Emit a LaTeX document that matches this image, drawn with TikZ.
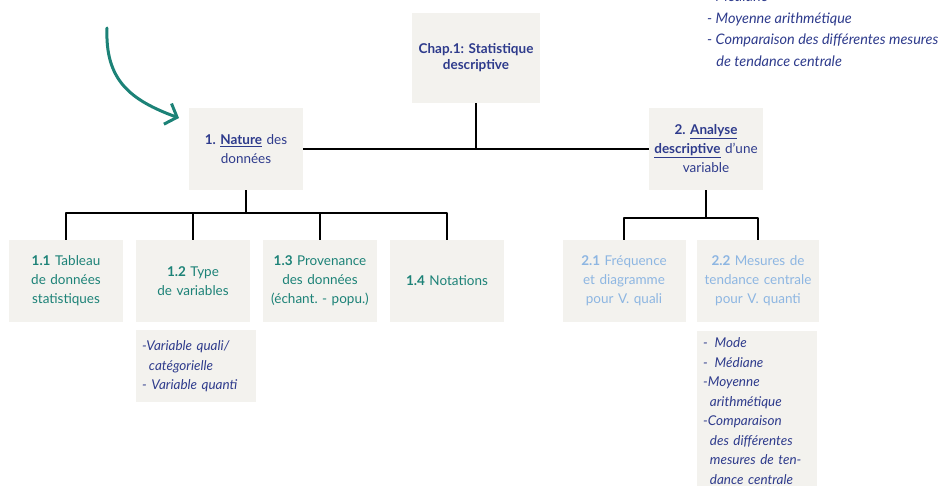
\documentclass[tikz,border=0pt]{standalone}
\usepackage{fontspec}
\setmainfont{Lato}
\usetikzlibrary{arrows.meta}
\definecolor{navy}{HTML}{2E3B8C}
\definecolor{tealtxt}{HTML}{1C8277}
\definecolor{skytxt}{HTML}{8DB6E2}
\definecolor{boxgray}{HTML}{F3F2EE}
\frenchspacing
\begin{document}
\begin{tikzpicture}[x=1pt,y=-1pt,line join=round,font=\fontsize{13.5}{19}\selectfont,
	box/.style={fill=boxgray,inner sep=0pt,align=center,minimum height=82pt,text width=114pt},
	notebox/.style={fill=boxgray,inner sep=0pt,align=left,anchor=north west,font=\fontsize{13.5}{19.5}\selectfont\itshape,text=navy},
	link/.style={line width=2.8pt,black}]
	\useasboundingbox (0,0) rectangle (939,486);
	% chapitre et parties
	\node[box,text width=128pt,minimum height=90pt,text=navy,font=\fontsize{13.5}{16}\selectfont\bfseries] (chap) at (476,58) {Chap.1: Statistique\\descriptive};
	\node[box,text=navy] (nat) at (246,149) {\textbf{1. \underline{Nature}} des\\données};
	\node[box,text=navy] (ana) at (706,149) {\textbf{2. \underline{Analyse}}\\\underline{\textbf{descriptive}} d'une\\variable};
	% sous-parties
	\node[box,text=tealtxt] (t11) at (66,281) {\textbf{1.1} Tableau\\de données\\statistiques};
	\node[box,text=tealtxt] (t12) at (193,281) {\textbf{1.2} Type\\de variables};
	\node[box,text=tealtxt] (t13) at (320,281) {\textbf{1.3} Provenance\\des données\\(échant. - popu.)};
	\node[box,text=tealtxt] (t14) at (447,281) {\textbf{1.4} Notations};
	\node[box,text=skytxt,text width=123pt] (t21) at (624,281) {\textbf{2.1} Fréquence\\et diagramme\\pour V. quali};
	\node[box,text=skytxt,text width=122pt] (t22) at (758,281) {\textbf{2.2} Mesures de\\tendance centrale\\pour V. quanti};
	% notes
	\node[notebox,text width=108pt,minimum width=114pt,minimum height=72pt,inner xsep=6pt] (n12) at (136,330) {-Variable quali/\\\ \,catégorielle\\- Variable quanti};
	\node[notebox,text width=108pt,minimum width=114pt,minimum height=160pt,inner xsep=6pt] (n22) at (697,331) {- \,Mode\\- \,Médiane\\-Moyenne\\\ \,arithmétique\\-Comparaison\\\ \,des différentes\\\ \,mesures de ten-\\\ \,dance centrale};
	\node[anchor=north west,inner sep=0pt,align=left,font=\fontsize{14.5}{21.5}\selectfont\itshape,text=navy] (ntop) at (707,-9) {- Médiane\\- Moyenne arithmétique\\- Comparaison des différentes mesures\\\ \ \,de tendance centrale};
	% liaisons
	\coordinate (bar1) at (246,213);
	\coordinate (bar2) at (706,218);
	\draw[link] (nat.east) -- (ana.west);
	\draw[link] (chap.south) -- (chap.south |- nat.east);
	\draw[link] (nat.south) -- (bar1);
	\draw[link] (t11.north) |- (bar1) -| (t14.north);
	\draw[link] (t12.north) -- (t12.north |- bar1);
	\draw[link] (t13.north) -- (t13.north |- bar1);
	\draw[link] (ana.south) -- (bar2);
	\draw[link] (t21.north) |- (bar2) -| (t22.north);
	% fleche
	\coordinate (arrA) at (107,28);
	\coordinate (arrB) at (179,118);
	\draw[line width=3pt,tealtxt,line cap=round,-{Straight Barb[length=10pt,width=22pt,line width=3pt]}] (arrA) .. controls (105,80) and (130,100) .. (arrB);
\end{tikzpicture}
\end{document}
